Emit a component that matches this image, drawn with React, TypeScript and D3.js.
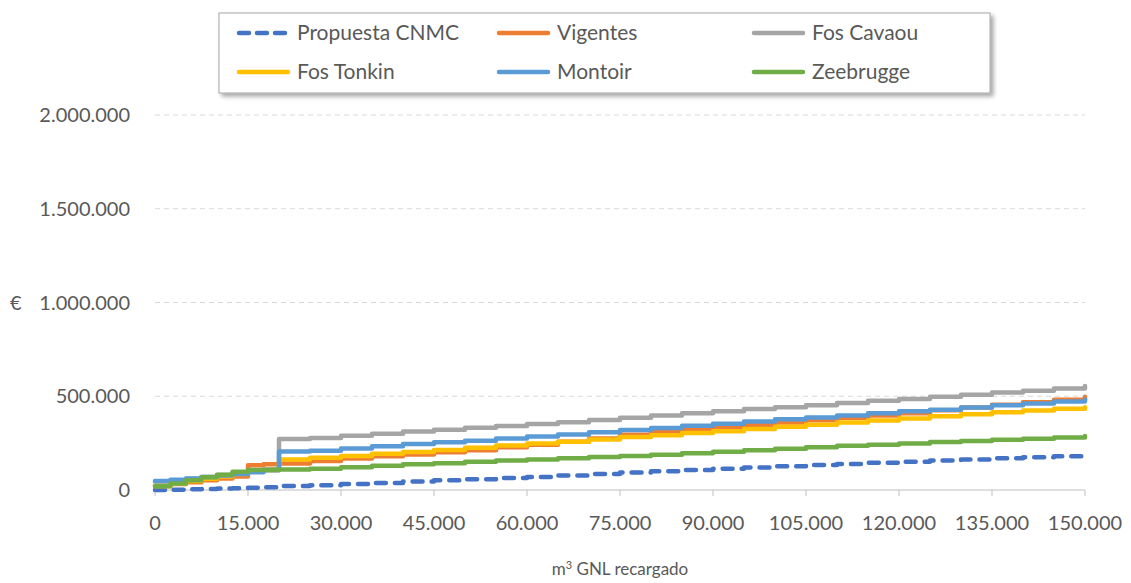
import React from "react";
import * as d3 from "d3";

// Volume of LNG reloaded (m³) at which each cost is sampled
const volumes = [
  0, 2500, 5000, 7500, 10000, 12500, 15000, 17500, 20000, 25000, 30000, 35000, 40000,
  45000, 50000, 55000, 60000, 65000, 70000, 75000, 80000, 85000, 90000, 95000, 100000,
  105000, 110000, 115000, 120000, 125000, 130000, 135000, 140000, 145000, 150000,
];

// Cost in thousands of euros for each tariff scheme
const propuestaCNMC = [
  0, 2, 4, 6, 8, 10, 12, 15, 22, 25, 32, 38, 45, 52, 58, 64, 70, 78, 85, 93, 100, 107,
  114, 120, 127, 133, 139, 145, 151, 157, 163, 170, 175, 180, 186,
];
const vigentes = [
  22, 32, 42, 52, 62, 72, 132, 138, 142, 155, 168, 180, 190, 202, 212, 228, 242, 258,
  275, 295, 310, 322, 335, 346, 360, 372, 385, 398, 410, 425, 440, 455, 468, 482, 497,
];
const fosCavaou = [
  45, 52, 60, 70, 80, 90, 100, 110, 272, 278, 290, 300, 312, 322, 332, 342, 352, 362,
  374, 386, 398, 410, 420, 432, 442, 452, 464, 476, 486, 498, 508, 520, 530, 542, 555,
];
const fosTonkin = [
  22, 35, 48, 60, 72, 85, 98, 105, 163, 172, 182, 193, 203, 213, 225, 237, 248, 258,
  270, 283, 292, 304, 314, 326, 338, 348, 360, 371, 382, 394, 404, 415, 424, 433, 442,
];
const montoir = [
  48, 55, 62, 70, 78, 86, 95, 106, 205, 210, 222, 234, 245, 255, 263, 275, 285, 296,
  308, 320, 331, 343, 354, 366, 378, 387, 398, 409, 420, 428, 440, 452, 462, 472, 483,
];
const zeebrugge = [
  20, 35, 52, 68, 82, 98, 107, 108, 110, 113, 122, 130, 137, 143, 151, 157, 163, 170,
  176, 181, 188, 196, 204, 212, 220, 228, 236, 242, 248, 256, 262, 268, 274, 280, 288,
];

const seriesNames = [
  "Propuesta CNMC",
  "Vigentes",
  "Fos Cavaou",
  "Fos Tonkin",
  "Montoir",
  "Zeebrugge",
];
const seriesValues = [propuestaCNMC, vigentes, fosCavaou, fosTonkin, montoir, zeebrugge];
const seriesColors = ["#4472C4", "#ED7D31", "#A5A5A5", "#FFC000", "#5B9BD5", "#70AD47"];

const xTicks = d3.range(0, 150001, 15000);
const yTicks = [0, 500000, 1000000, 1500000, 2000000];

const fmt = (v: number) =>
  v === 0 ? "0" : d3.format(",")(v).replace(/,/g, ".");

const FONT = "Lato, 'Open Sans', sans-serif";
const TEXT = "#595959";

export default function App() {
  const width = 1131;
  const height = 583;
  const left = 155;
  const right = 1085;
  const top = 115;
  const bottom = 490;

  const x = d3.scaleLinear().domain([0, 150000]).range([left, right]);
  const y = d3.scaleLinear().domain([0, 2000000]).range([bottom, top]);

  const line = d3
    .line<number>()
    .x((_, i) => x(volumes[i]))
    .y((d) => y(d * 1000))
    .curve(d3.curveStepAfter);

  const legendCols = [237, 497, 752];
  const legendRows = [33, 72];

  return (
    <svg
      width={width}
      height={height}
      style={{ position: "absolute", left: 0, top: 0, background: "#fff" }}
      fontFamily={FONT}
    >
      <defs>
        <filter id="legendShadow" x="-5%" y="-20%" width="110%" height="150%">
          <feDropShadow dx="3" dy="3" stdDeviation="2" floodColor="#000" floodOpacity="0.35" />
        </filter>
      </defs>

      {/* horizontal gridlines */}
      {yTicks
        .filter((t) => t > 0)
        .map((t) => (
          <line
            key={t}
            x1={left}
            x2={right}
            y1={y(t)}
            y2={y(t)}
            stroke="#d9d9d9"
            strokeWidth={1}
            strokeDasharray="5 4"
          />
        ))}

      {/* y tick labels */}
      {yTicks.map((t) => (
        <text
          key={t}
          x={130}
          y={y(t)}
          dy="0.35em"
          textAnchor="end"
          fontSize={20}
          fill={TEXT}
        >
          {fmt(t)}
        </text>
      ))}
      <text x={10} y={y(1000000)} dy="0.35em" fontSize={20} fill={TEXT}>
        €
      </text>

      {/* x axis */}
      <line x1={left} x2={right} y1={bottom} y2={bottom} stroke="#bfbfbf" strokeWidth={1} />
      {xTicks.map((t) => (
        <g key={t}>
          <line x1={x(t)} x2={x(t)} y1={bottom} y2={bottom + 6} stroke="#bfbfbf" />
          <text
            x={x(t)}
            y={523}
            dy="0.35em"
            textAnchor="middle"
            fontSize={20}
            fill={TEXT}
          >
            {fmt(t)}
          </text>
        </g>
      ))}
      <text x={620} y={569} dy="0.35em" textAnchor="middle" fontSize={17} fill={TEXT}>
        m<tspan baselineShift="super" fontSize={11}>3</tspan> GNL recargado
      </text>

      {/* series */}
      {seriesValues.map((vals, i) => (
        <path
          key={seriesNames[i]}
          d={line(vals) ?? ""}
          fill="none"
          stroke={seriesColors[i]}
          strokeWidth={4.5}
          strokeLinejoin="round"
          strokeLinecap="round"
          strokeDasharray={i === 0 ? "10 9" : undefined}
        />
      ))}

      {/* legend */}
      <rect
        x={219}
        y={13}
        width={771}
        height={80}
        fill="#fff"
        stroke="#a6a6a6"
        strokeWidth={1}
        filter="url(#legendShadow)"
      />
      {seriesNames.map((name, i) => {
        const cx = legendCols[i % 3];
        const cy = legendRows[Math.floor(i / 3)];
        return (
          <g key={name}>
            <line
              x1={cx + 2}
              x2={cx + 51}
              y1={cy}
              y2={cy}
              stroke={seriesColors[i]}
              strokeWidth={4.5}
              strokeLinecap="round"
              strokeDasharray={i === 0 ? "10 8" : undefined}
            />
            <text x={cx + 60} y={cy} dy="0.35em" fontSize={21} fill={TEXT}>
              {name}
            </text>
          </g>
        );
      })}
    </svg>
  );
}
